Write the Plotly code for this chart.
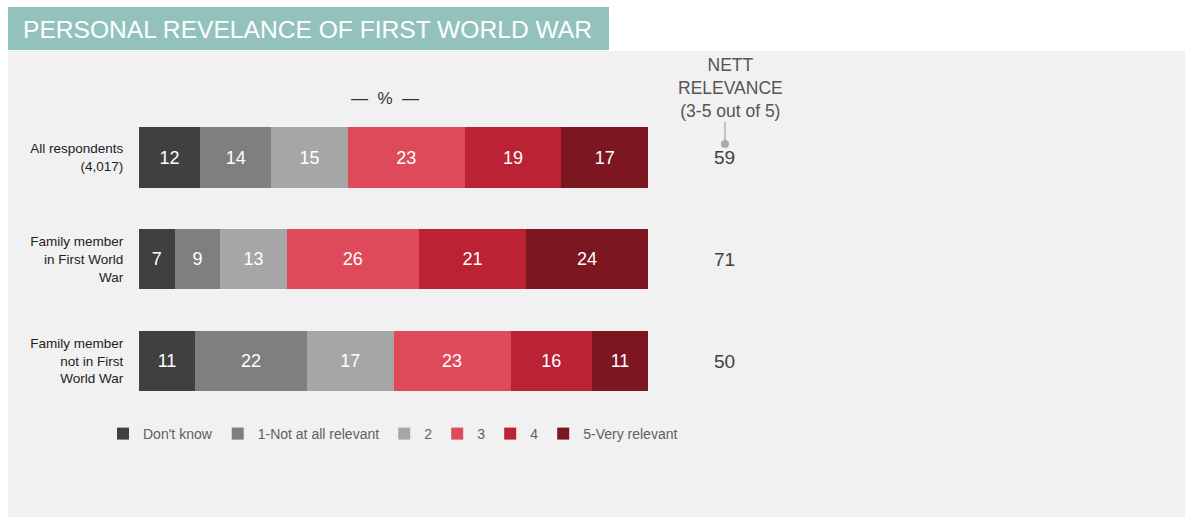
import plotly.graph_objects as go

W, H = 1187, 518

categories = ["All respondents<br>(4,017)",
              "Family member<br>in First World<br>War",
              "Family member<br>not in First<br>World War"]
series_names = ["Don't know", "1-Not at all relevant", "2", "3", "4", "5-Very relevant"]
dont_know = [12, 7, 11]
rel_1 = [14, 9, 22]
rel_2 = [15, 13, 17]
rel_3 = [23, 26, 23]
rel_4 = [19, 21, 16]
rel_5 = [17, 24, 11]
nett_relevance = [59, 71, 50]
colors = ["#404040", "#7f7f7f", "#a6a6a6", "#df4a5a", "#bb2234", "#7c1620"]

FONT = "Liberation Sans, Arial, Helvetica, sans-serif"


def px_x(x):
    return x / W


def px_y(y):
    return 1 - y / H


fig = go.Figure()
for name, vals, col in zip(series_names, [dont_know, rel_1, rel_2, rel_3, rel_4, rel_5], colors):
    fig.add_trace(go.Bar(
        y=categories, x=vals, name=name, orientation="h",
        marker=dict(color=col, line=dict(width=0)),
        text=vals, texttemplate="%{x}", textposition="inside",
        insidetextanchor="middle", constraintext="none",
        textfont=dict(color="white", size=18, family=FONT),
        hoverinfo="skip",
    ))

# nett relevance values
for cat, v in zip(categories, nett_relevance):
    fig.add_annotation(x=px_x(724), xref="paper", y=cat, yref="y", text=str(v),
                       showarrow=False, font=dict(size=19, color="#404040", family=FONT))

shapes = [
    dict(type="rect", xref="paper", yref="paper", x0=px_x(8), x1=px_x(1185),
         y0=px_y(517), y1=px_y(51), fillcolor="#f1f1f1", line=dict(width=0), layer="below"),
    dict(type="rect", xref="paper", yref="paper", x0=px_x(8), x1=px_x(609),
         y0=px_y(50), y1=px_y(7), fillcolor="#93c2bd", line=dict(width=0), layer="below"),
    dict(type="line", xref="paper", yref="paper", x0=px_x(725), x1=px_x(725),
         y0=px_y(122), y1=px_y(141), line=dict(color="#b0b0b0", width=1.5)),
    dict(type="circle", xref="paper", yref="paper", x0=px_x(721), x1=px_x(729),
         y0=px_y(148), y1=px_y(140), fillcolor="#aaaaaa", line=dict(width=0)),
]

annotations = [
    dict(x=px_x(21), y=px_y(29), xref="paper", yref="paper", xanchor="left", yanchor="middle",
         text="PERSONAL REVELANCE OF FIRST WORLD WAR", showarrow=False,
         font=dict(size=24.6, color="white", family=FONT)),
    dict(x=px_x(385), y=px_y(99), xref="paper", yref="paper", xanchor="center", yanchor="middle",
         text="—  %  —", showarrow=False, font=dict(size=17, color="#333333", family=FONT)),
    dict(x=px_x(730), y=px_y(88), xref="paper", yref="paper", xanchor="center", yanchor="middle",
         text="NETT<br>RELEVANCE<br>(3-5 out of 5)", showarrow=False,
         font=dict(size=17.5, color="#555555", family=FONT)),
]
for a in annotations:
    fig.add_annotation(**a)

fig.update_layout(
    width=W, height=H, margin=dict(l=0, r=0, t=0, b=0),
    paper_bgcolor="white", plot_bgcolor="rgba(0,0,0,0)",
    barmode="stack", bargap=0.41,
    shapes=shapes,
    font=dict(family=FONT),
    xaxis=dict(domain=[px_x(139), px_x(648)], range=[0, 100], visible=False, fixedrange=True),
    yaxis=dict(domain=[px_y(412), px_y(106.6)], categoryorder="array", categoryarray=categories,
               autorange="reversed", showgrid=False, zeroline=False, showline=False,
               ticks="outside", ticklen=12, tickcolor="rgba(0,0,0,0)",
               tickfont=dict(size=13.5, color="#222222", family=FONT), fixedrange=True),
    showlegend=True,
    legend=dict(orientation="h", x=px_x(393), xanchor="center", y=px_y(434), yanchor="middle",
                traceorder="normal", bgcolor="rgba(0,0,0,0)",
                font=dict(size=14, color="#606060", family=FONT), itemwidth=30),
)

fig.write_html("out.html")
